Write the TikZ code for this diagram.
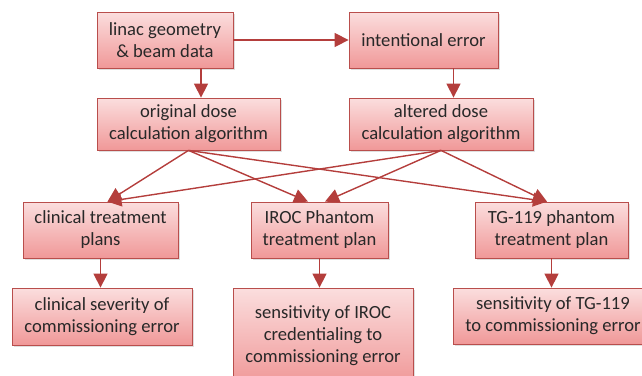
\documentclass[tikz,border=0pt]{standalone}
\usepackage{fontspec}
\setmainfont{Carlito}
\usetikzlibrary{positioning, arrows.meta, shadows}

\definecolor{boxtop}{RGB}{251,222,222}
\definecolor{boxbottom}{RGB}{240,152,152}
\definecolor{boxedge}{RGB}{185,78,76}
\definecolor{arrowred}{RGB}{180,62,60}
\definecolor{textgray}{RGB}{40,40,40}

\begin{document}
\begin{tikzpicture}[
    x=1pt, y=-1pt,
    % Define the style for the boxes
    block/.style={
        rectangle,
        draw=boxedge,
        line width=0.8pt,
        top color=boxtop,
        bottom color=boxbottom,
        text=textgray,
        align=center,
        inner sep=0pt,
        font=\fontsize{18.6}{22}\selectfont,
        drop shadow={opacity=0.25, shadow xshift=1.5pt, shadow yshift=-1.5pt}
    },
    % Define the style for the arrows
    line/.style={
        draw=arrowred,
        line width=1.4pt,
        -{Triangle[length=14pt, width=14pt]}
    }
]
    \useasboundingbox (0,0) rectangle (642,375);

    % Place the nodes (boxes)
    \node [block, minimum width=136, minimum height=56] (linac) at (165,40) {linac geometry\\\& beam data};
    \node [block, minimum width=149, minimum height=56] (intent) at (423.5,40) {intentional error};
    \node [block, minimum width=183, minimum height=52] (orig) at (188.5,124) {original dose\\calculation algorithm};
    \node [block, minimum width=184, minimum height=52] (alter) at (441,124) {altered dose\\calculation algorithm};
    \node [block, minimum width=155, minimum height=56] (clin) at (100.5,230) {clinical treatment\\plans};
    \node [block, minimum width=137, minimum height=56] (iroc) at (319.5,230) {IROC Phantom\\treatment plan};
    \node [block, minimum width=153, minimum height=56] (tg) at (551.5,230) {TG-119 phantom\\treatment plan};
    \node [block, minimum width=180, minimum height=57] (sev) at (102,316.5) {clinical severity of\\commissioning error};
    \node [block, minimum width=180, minimum height=96] (siroc) at (323,336) {sensitivity of IROC\\credentialing to\\commissioning error};
    \node [block, minimum width=200, minimum height=56] (stg) at (553,316) {sensitivity of TG-119\\to commissioning error};

    % Draw the arrows
    \path [line] (linac) -- (intent);
    \path [line] ([xshift=36pt]linac.south) -- ([xshift=36pt]linac.south |- orig.north);
    \path [line] ([xshift=30pt]intent.south) -- ([xshift=30pt]intent.south |- alter.north);
    \path [line] (orig.south) -- ([xshift=7pt]clin.north);
    \path [line] (orig.south) -- ([xshift=-11.5pt]iroc.north);
    \path [line] (orig.south) -- ([xshift=-4.5pt]tg.north);
    \path [line] (alter.south) -- ([xshift=7pt]clin.north);
    \path [line] (alter.south) -- ([xshift=5.5pt]iroc.north);
    \path [line] (alter.south) -- ([xshift=-4.5pt]tg.north);
    \path [line] (clin) -- (clin |- sev.north);
    \path [line] (iroc) -- (iroc |- siroc.north);
    \path [line] (tg) -- (tg |- stg.north);

\end{tikzpicture}
\end{document}
